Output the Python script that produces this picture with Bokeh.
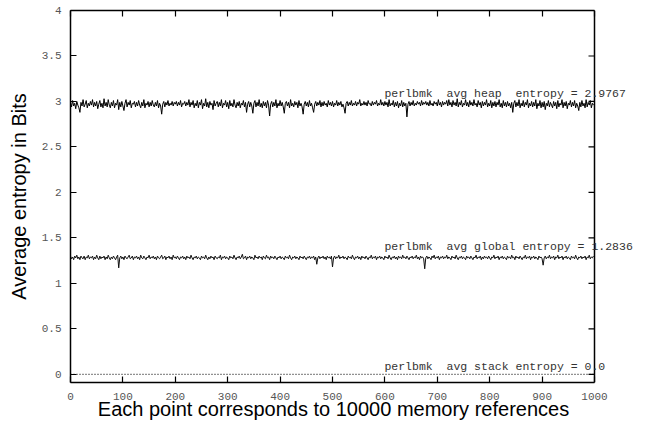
from bokeh.plotting import figure
from bokeh.models import Range1d, LinearAxis, Label, CustomJSTickFormatter, FixedTicker, Span
from bokeh.embed import file_html
from bokeh.resources import INLINE

# ---- data ----
heap_x = list(range(0, 1000, 2))
heap_vals = [
    2.99, 2.94, 3.01, 2.95, 2.98, 2.92, 3.00, 2.96, 2.93, 2.88, 2.99, 2.95, 3.02, 2.94, 2.97, 3.01, 2.93, 2.98, 2.95, 3.00,
    2.96, 3.02, 2.94, 2.99, 2.95, 3.00, 2.92, 2.97, 3.01, 2.94, 2.98, 2.93, 3.03, 2.95, 2.99, 2.94, 3.02, 2.96, 2.93, 2.99,
    2.95, 3.01, 2.93, 2.98, 2.96, 3.02, 2.91, 2.99, 2.94, 3.00, 2.95, 2.90, 2.98, 3.02, 2.94, 2.99, 2.96, 3.01, 2.93, 2.98,
    2.97, 3.00, 2.94, 2.99, 2.95, 3.01, 2.96, 2.93, 2.99, 2.95, 3.02, 2.93, 2.98, 2.96, 3.00, 2.94, 2.99, 2.95, 3.01, 2.96,
    2.94, 2.99, 2.95, 3.01, 2.93, 2.98, 2.95, 2.86, 2.97, 3.00, 2.94, 2.99, 2.96, 3.01, 2.95, 2.98, 2.96, 3.00, 2.95, 2.99,
    2.97, 3.00, 2.95, 2.99, 2.96, 3.01, 2.94, 2.98, 2.97, 3.00, 2.95, 2.99, 2.96, 3.02, 2.94, 2.99, 2.96, 3.01, 2.93, 2.98,
    2.95, 3.01, 2.93, 2.99, 2.96, 3.02, 2.92, 2.98, 2.95, 3.03, 2.94, 2.99, 2.93, 3.00, 2.96, 2.98, 2.91, 3.01, 2.95, 2.98,
    3.00, 2.94, 2.99, 2.95, 3.02, 2.93, 2.98, 2.96, 3.01, 2.94, 2.99, 2.92, 3.01, 2.95, 2.98, 2.94, 3.02, 2.96, 2.93, 2.99,
    2.95, 3.00, 2.93, 2.98, 2.96, 3.01, 2.94, 2.99, 2.88, 2.97, 3.00, 2.94, 2.99, 2.95, 2.87, 2.98, 3.01, 2.94, 2.99, 2.95,
    3.02, 2.94, 2.98, 2.93, 3.00, 2.95, 2.99, 2.93, 3.01, 2.96, 2.84, 2.97, 3.00, 2.94, 2.99, 2.95, 3.02, 2.93, 2.98, 2.95,
    3.01, 2.95, 2.99, 2.94, 2.87, 2.98, 3.00, 2.95, 2.99, 2.93, 3.02, 2.95, 2.98, 2.94, 3.00, 2.96, 2.99, 2.93, 3.01, 2.95,
    2.98, 2.94, 2.86, 2.97, 3.00, 2.95, 2.99, 2.94, 3.01, 2.95, 2.98, 2.93, 2.88, 2.97, 3.00, 2.95, 2.99, 2.96, 3.01, 2.94,
    2.99, 2.95, 3.00, 2.96, 2.98, 2.94, 3.01, 2.96, 2.99, 2.95, 3.00, 2.94, 2.98, 2.96, 3.01, 2.95, 2.99, 2.96, 3.00, 2.94,
    2.97, 2.93, 2.87, 2.98, 3.00, 2.95, 2.99, 2.96, 3.01, 2.95, 2.98, 2.96, 3.00, 2.95, 2.99, 2.97, 3.02, 2.95, 2.98, 2.96,
    3.00, 2.96, 2.99, 2.95, 3.01, 2.97, 2.98, 2.95, 3.00, 2.96, 2.99, 2.97, 3.01, 2.95, 2.98, 2.96, 3.02, 2.96, 2.99, 2.95,
    3.00, 2.96, 2.99, 2.94, 3.02, 2.95, 2.98, 2.96, 3.01, 2.94, 2.99, 2.95, 3.00, 2.93, 2.98, 2.95, 3.01, 2.94, 2.99, 2.95,
    2.98, 2.83, 2.97, 3.00, 2.95, 2.99, 2.96, 3.01, 2.95, 2.98, 2.96, 3.00, 2.97, 2.99, 2.95, 3.01, 2.96, 2.99, 2.97, 3.00,
    2.96, 2.99, 2.95, 3.01, 2.96, 2.98, 2.95, 3.00, 2.97, 2.99, 2.95, 3.02, 2.96, 2.99, 2.94, 3.00, 2.96, 2.99, 2.97, 3.01,
    2.95, 3.02, 2.96, 2.99, 2.94, 3.01, 2.96, 2.99, 2.95, 3.03, 2.94, 2.99, 2.96, 3.01, 2.94, 2.98, 2.96, 3.02, 2.95, 2.99,
    2.94, 3.01, 2.96, 2.99, 2.95, 3.02, 2.96, 2.98, 2.94, 3.01, 2.96, 2.99, 2.93, 3.00, 2.95, 2.99, 2.96, 3.02, 2.94, 2.98,
    2.95, 3.01, 2.93, 2.99, 2.95, 3.00, 2.94, 2.99, 2.96, 3.02, 2.94, 2.98, 2.93, 3.01, 2.95, 2.99, 2.94, 3.00, 2.95, 2.98,
    2.93, 2.99, 2.88, 2.98, 3.01, 2.94, 2.99, 2.95, 3.02, 2.93, 2.98, 2.95, 3.01, 2.94, 2.99, 2.96, 3.02, 2.93, 2.98, 2.95,
    3.00, 2.94, 2.99, 2.95, 3.02, 2.92, 2.98, 2.95, 3.01, 2.93, 2.99, 2.94, 3.00, 2.91, 2.98, 2.95, 3.01, 2.94, 2.99, 2.96,
    2.93, 3.00, 2.95, 2.99, 2.92, 3.01, 2.94, 2.98, 2.96, 3.02, 2.93, 2.99, 2.95, 3.00, 2.92, 2.98, 2.96, 3.01, 2.94, 2.99,
    2.95, 3.01, 2.93, 2.98, 2.95, 2.90, 2.99, 2.94, 3.01, 2.95, 2.98, 2.93, 3.02, 2.94, 2.99, 2.96, 3.01, 2.93, 2.98, 2.96,
]
global_x = list(range(0, 1000, 2))
global_vals = [
    1.30, 1.27, 1.29, 1.26, 1.30, 1.28, 1.31, 1.27, 1.29, 1.26, 1.30, 1.28, 1.27, 1.30, 1.26, 1.29, 1.28, 1.31, 1.27, 1.29,
    1.28, 1.30, 1.26, 1.29, 1.27, 1.31, 1.28, 1.26, 1.30, 1.27, 1.29, 1.28, 1.30, 1.26, 1.29, 1.27, 1.31, 1.28, 1.26, 1.29,
    1.27, 1.30, 1.28, 1.26, 1.29, 1.31, 1.17, 1.28, 1.30, 1.27, 1.29, 1.26, 1.30, 1.28, 1.27, 1.29, 1.31, 1.27, 1.28, 1.30,
    1.26, 1.29, 1.28, 1.30, 1.27, 1.29, 1.26, 1.31, 1.28, 1.27, 1.30, 1.28, 1.26, 1.29, 1.28, 1.31, 1.27, 1.29, 1.28, 1.30,
    1.27, 1.29, 1.26, 1.30, 1.28, 1.27, 1.29, 1.31, 1.27, 1.28, 1.30, 1.26, 1.29, 1.28, 1.30, 1.27, 1.29, 1.26, 1.31, 1.28,
    1.29, 1.27, 1.30, 1.28, 1.26, 1.29, 1.28, 1.30, 1.27, 1.29, 1.26, 1.30, 1.28, 1.29, 1.27, 1.31, 1.28, 1.26, 1.29, 1.28,
    1.30, 1.27, 1.29, 1.28, 1.26, 1.30, 1.28, 1.29, 1.27, 1.31, 1.28, 1.26, 1.29, 1.27, 1.30, 1.28, 1.29, 1.26, 1.30, 1.28,
    1.27, 1.29, 1.28, 1.31, 1.26, 1.29, 1.28, 1.30, 1.27, 1.29, 1.28, 1.26, 1.30, 1.28, 1.29, 1.27, 1.31, 1.28, 1.26, 1.29,
    1.28, 1.30, 1.27, 1.29, 1.32, 1.27, 1.28, 1.30, 1.26, 1.29, 1.28, 1.30, 1.27, 1.29, 1.28, 1.26, 1.31, 1.28, 1.29, 1.27,
    1.30, 1.28, 1.29, 1.26, 1.30, 1.28, 1.27, 1.31, 1.28, 1.29, 1.26, 1.30, 1.28, 1.29, 1.27, 1.30, 1.28, 1.26, 1.29, 1.28,
    1.30, 1.27, 1.29, 1.28, 1.26, 1.30, 1.28, 1.29, 1.27, 1.31, 1.28, 1.26, 1.29, 1.28, 1.30, 1.27, 1.29, 1.28, 1.26, 1.30,
    1.28, 1.29, 1.27, 1.30, 1.28, 1.26, 1.29, 1.28, 1.30, 1.27, 1.29, 1.28, 1.30, 1.26, 1.29, 1.21, 1.28, 1.30, 1.27, 1.29,
    1.28, 1.30, 1.27, 1.29, 1.26, 1.30, 1.28, 1.29, 1.27, 1.30, 1.18, 1.28, 1.30, 1.27, 1.29, 1.28, 1.31, 1.27, 1.29, 1.28,
    1.30, 1.27, 1.29, 1.28, 1.26, 1.30, 1.28, 1.29, 1.27, 1.31, 1.28, 1.26, 1.29, 1.28, 1.30, 1.27, 1.29, 1.26, 1.30, 1.28,
    1.29, 1.27, 1.30, 1.28, 1.26, 1.29, 1.28, 1.31, 1.27, 1.29, 1.28, 1.30, 1.26, 1.29, 1.28, 1.30, 1.27, 1.29, 1.28, 1.26,
    1.30, 1.28, 1.29, 1.27, 1.31, 1.28, 1.26, 1.29, 1.28, 1.30, 1.27, 1.29, 1.26, 1.30, 1.28, 1.29, 1.27, 1.31, 1.28, 1.29,
    1.27, 1.30, 1.28, 1.26, 1.29, 1.28, 1.30, 1.27, 1.29, 1.28, 1.31, 1.27, 1.29, 1.26, 1.30, 1.28, 1.29, 1.27, 1.16, 1.28,
    1.30, 1.27, 1.29, 1.28, 1.26, 1.30, 1.28, 1.31, 1.27, 1.29, 1.28, 1.30, 1.26, 1.29, 1.28, 1.30, 1.27, 1.29, 1.28, 1.31,
    1.27, 1.29, 1.28, 1.26, 1.30, 1.28, 1.29, 1.27, 1.31, 1.28, 1.26, 1.29, 1.28, 1.30, 1.27, 1.29, 1.28, 1.26, 1.30, 1.28,
    1.29, 1.27, 1.30, 1.28, 1.26, 1.29, 1.28, 1.31, 1.27, 1.29, 1.28, 1.30, 1.26, 1.29, 1.27, 1.30, 1.28, 1.29, 1.27, 1.30,
    1.28, 1.26, 1.29, 1.28, 1.31, 1.27, 1.29, 1.28, 1.30, 1.26, 1.29, 1.28, 1.30, 1.27, 1.29, 1.28, 1.26, 1.30, 1.28, 1.29,
    1.27, 1.31, 1.28, 1.29, 1.26, 1.30, 1.28, 1.29, 1.27, 1.30, 1.28, 1.26, 1.29, 1.28, 1.31, 1.27, 1.29, 1.28, 1.30, 1.26,
    1.29, 1.28, 1.30, 1.27, 1.29, 1.28, 1.26, 1.30, 1.28, 1.29, 1.27, 1.20, 1.28, 1.30, 1.27, 1.29, 1.28, 1.31, 1.27, 1.29,
    1.28, 1.30, 1.26, 1.29, 1.28, 1.31, 1.27, 1.29, 1.28, 1.30, 1.26, 1.29, 1.28, 1.30, 1.27, 1.29, 1.28, 1.26, 1.30, 1.28,
    1.29, 1.27, 1.31, 1.28, 1.26, 1.29, 1.28, 1.30, 1.27, 1.29, 1.28, 1.30, 1.26, 1.29, 1.28, 1.31, 1.27, 1.29, 1.28, 1.30,
]
stack_x = [0, 1000]
stack_vals = [0.0, 0.0]

NB = "\u00a0"
series_labels = [
    "perlbmk  avg heap  entropy = 2.9767",
    "perlbmk  avg global entropy = 1.2836",
    "perlbmk  avg stack entropy = 0.0",
]
label_x = [599, 599, 599]
label_y = [3.09, 1.405, 0.086]

x_title = "Each point corresponds to 10000 memory references"
y_title = "Average entropy in Bits"

x_ticks = [0, 100, 200, 300, 400, 500, 600, 700, 800, 900, 1000]
y_ticks = [0, 0.5, 1, 1.5, 2, 2.5, 3, 3.5, 4]

X0, X1 = 0, 1000
Y0, Y1 = -0.09, 4
W, H = 652, 422
FRAME_LEFT, FRAME_W = 70, 524          # plotted 0..1000 area
FRAME_EXT_W = W - 6 - FRAME_LEFT       # frame extended so the side texts are not clipped
X1_EXT = X0 + (X1 - X0) * FRAME_EXT_W / FRAME_W
TICK_PX = 6
tick_dx = TICK_PX * (X1 - X0) / FRAME_W
TITLE_PX = 20
# the axis title is centred on the (extended) frame: pad it so it centres on 0..1000
pad = NB * round((FRAME_EXT_W - FRAME_W) / (0.278 * TITLE_PX))

# ---- figure ----
p = figure(width=W, height=H, output_backend="svg", toolbar_location=None,
           x_range=Range1d(X0, X1_EXT), y_range=Range1d(Y0, Y1),
           min_border_left=FRAME_LEFT, min_border_right=W - FRAME_LEFT - FRAME_EXT_W,
           min_border_top=10, min_border_bottom=40,
           x_axis_label=x_title + pad, y_axis_label=y_title)
p.grid.visible = False
p.outline_line_color = None
p.background_fill_color = "white"

p.line(heap_x, heap_vals, line_color="black", line_width=1)
p.line(global_x, global_vals, line_color="#111111", line_width=1)
p.line(stack_x, stack_vals, line_color="#222222", line_width=1.2, line_dash="1 2")

fmt = CustomJSTickFormatter(code="return tick.toString();")

for ax in p.xaxis:
    ax.ticker = FixedTicker(ticks=x_ticks)
    ax.bounds = (X0, X1)
for ax in p.yaxis:
    ax.ticker = FixedTicker(ticks=y_ticks)
    ax.formatter = fmt

for ax in list(p.xaxis) + list(p.yaxis):
    ax.major_tick_in = TICK_PX
    ax.major_tick_out = 0
    ax.minor_tick_in = 0
    ax.minor_tick_out = 0
    ax.axis_line_width = 1.5
    ax.major_tick_line_width = 1.2
    ax.major_label_text_font = "Liberation Mono"
    ax.major_label_text_font_size = "11px"
    ax.major_label_text_color = "#555555"
    ax.axis_label_text_font = "Liberation Sans"
    ax.axis_label_text_font_size = f"{TITLE_PX}px"
    ax.axis_label_text_font_style = "normal"
    ax.axis_label_text_color = "black"

p.xaxis.major_label_standoff = 10
p.xaxis.axis_label_standoff = -5
p.yaxis.major_label_standoff = 9
p.yaxis.axis_label_standoff = 9

# mirrored top axis (ticks only)
top = LinearAxis(ticker=FixedTicker(ticks=x_ticks), bounds=(X0, X1),
                 formatter=CustomJSTickFormatter(code="return '';"),
                 major_label_standoff=0, major_tick_in=TICK_PX, major_tick_out=0,
                 minor_tick_in=0, minor_tick_out=0, axis_line_width=1.5, major_tick_line_width=1.2)
p.add_layout(top, "above")

# right border of the plotted area at x = 1000, with mirrored y ticks
p.add_layout(Span(location=X1, dimension="height", line_color="black", line_width=1.5))
p.segment(x0=[X1] * len(y_ticks), x1=[X1 - tick_dx] * len(y_ticks), y0=y_ticks, y1=y_ticks,
          line_color="black", line_width=1.2)

for t, lx, ly in zip(series_labels, label_x, label_y):
    p.add_layout(Label(x=lx, y=ly, text=t.replace(" ", NB), text_font="Liberation Mono",
                       text_font_size="11.5px", text_color="#333333",
                       text_align="left", text_baseline="middle"))

open("out.html", "w").write(file_html(p, INLINE))
